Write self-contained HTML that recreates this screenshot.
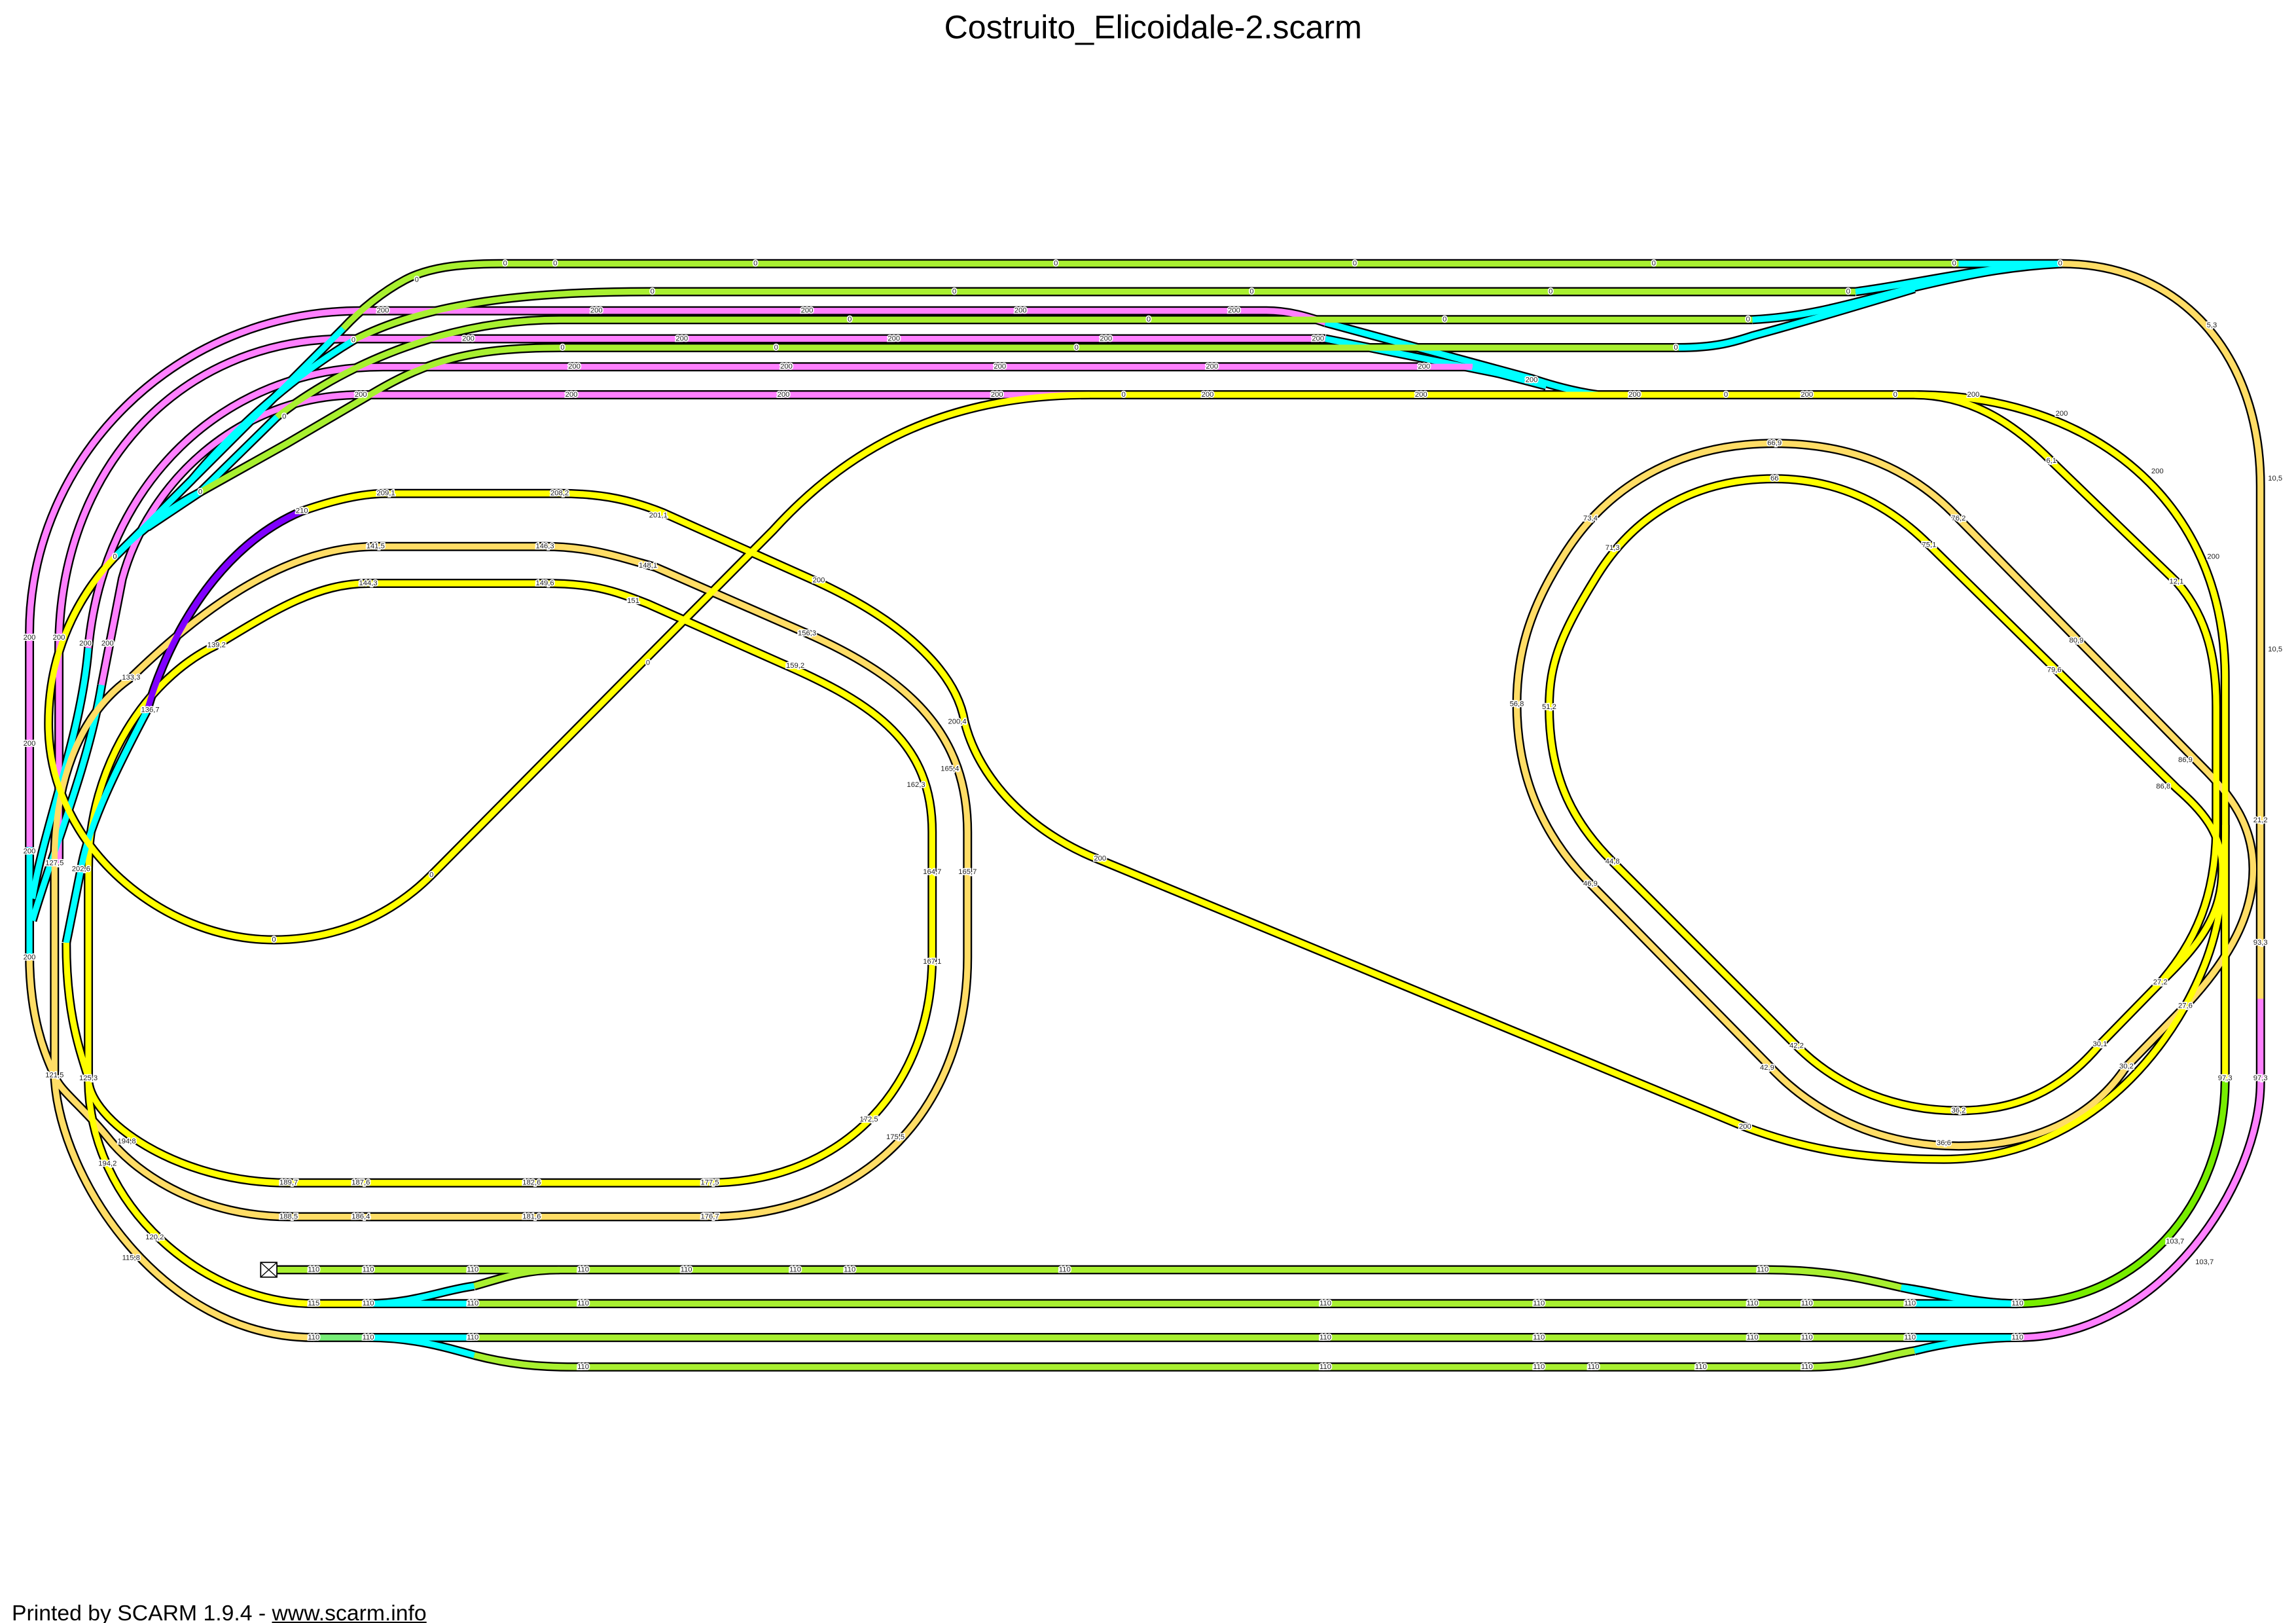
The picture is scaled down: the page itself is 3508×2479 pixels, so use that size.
<!DOCTYPE html>
<html><head><meta charset="utf-8"><style>
html,body{margin:0;padding:0;background:#fff}
svg{display:block}
.k{fill:none;stroke:#000;stroke-width:6.2;stroke-linecap:butt;stroke-linejoin:round}
.c{fill:none;stroke-width:4.1;stroke-linecap:butt;stroke-linejoin:round}
.l{font-family:"Liberation Sans",sans-serif;font-size:5px;fill:#222;stroke:#fff;stroke-width:1.6px;paint-order:stroke;text-anchor:middle;dominant-baseline:middle}
</style></head><body>
<svg width="3508" height="2479" viewBox="0 0 1559.1 1101.8" xmlns="http://www.w3.org/2000/svg">
<rect x="0" y="0" width="1559.1" height="1101.8" fill="#fff"/>
<defs>
<path id="p1" d="M1400,179 L1330,179"/>
<path id="p2" d="M1330,179 L340,179 C310,179 290,182 275,190 C260,198 245,210 233,223"/>
<path id="p3" d="M233,223 L78,378"/>
<path id="p4" d="M78,378 C48,410 32,450 33,495 C35,575 110,638 186,638 C228,638 265,622 293,594 L525,360 C575,305 640,268 740,268"/>
<path id="p5" d="M740,268 L1300,268 C1420,268 1511,340 1511,460 L1511,732"/>
<path id="p6" d="M1511,732 C1511,820 1450,885 1370,885"/>
<path id="p7" d="M1370,885 L1300,885 M1370,885 C1340,885 1310,876 1291,874"/>
<path id="p8" d="M1300,885 L320,885"/>
<path id="p9" d="M320,885 L250,885 M250,885 C280,885 300,876 322,873"/>
<path id="p10" d="M322,873 C340,868 355,862 380,862"/>
<path id="p11" d="M250,885 L213,885 C140,885 60,820 60,732"/>
<path id="p12" d="M60,732 L60,590 C60,520 100,460 147,438 C185,415 215,396 250,396 L370,396 C400,396 415,400 440,410 L530,450 C595,478 633,505 633,565 L633,650 C633,735 575,803 480,803 L195,803 C120,803 60,760 60,732"/>
<path id="p13" d="M37,730 L37,586 C37,520 60,480 89,460 C130,420 190,371 255,371 L370,371 C400,371 420,378 445,385 L548,430 C620,462 657,500 657,565 L657,650 C657,750 590,826 480,826 L196,826 C140,826 95,800 73,772 C55,750 40,740 37,730"/>
<path id="p14" d="M37,730 C40,800 110,908 213,908"/>
<path id="p15" d="M213,908 L250,908"/>
<path id="p16" d="M250,908 L320,908 M250,908 C280,908 300,914 322,920"/>
<path id="p17" d="M320,908 L1300,908"/>
<path id="p18" d="M322,920 C345,926 365,928 390,928 L1230,928 C1260,928 1280,920 1300,917"/>
<path id="p19" d="M1300,917 C1320,912 1345,908 1370,908 M1300,908 L1370,908"/>
<path id="p20" d="M1370,908 C1470,908 1535,800 1535,735 L1535,678"/>
<path id="p21" d="M1535,678 L1535,330 C1535,240 1480,179 1400,179"/>
<path id="p22" d="M188,862 L1200,862 C1240,862 1265,868 1291,874"/>
<path id="p22c" d="M1291,874 C1320,880 1345,885 1370,885"/>
<path id="q1" d="M860,211 L245,211 C120,211 20,310 20,430 L20,575"/>
<path id="q1c" d="M20,575 L20,648"/>
<path id="q1o" d="M20,648 C20,690 30,715 37,730"/>
<path id="q1r" d="M860,211 C875,211 888,215 900,219"/>
<path id="q1rc" d="M900,219 L1040,257 C1055,262 1070,266 1085,268"/>
<path id="q2" d="M900,230 L235,230 C120,230 40,320 40,440 L40,586"/>
<path id="q2c" d="M900,230 L1040,258"/>
<path id="q3" d="M1000,249 L260,249 C150,249 70,330 60,440"/>
<path id="q3c" d="M60,440 C55,500 30,560 22,610 M1000,249 L1050,262"/>
<path id="q4" d="M740,268 L245,268 C160,268 100,330 83,393 L69,465"/>
<path id="q4c" d="M69,465 C60,520 35,580 22,625"/>
<path id="g2" d="M1260,198 L440,198 C360,198 290,205 240,231"/>
<path id="g2c" d="M240,231 C200,255 160,290 130,326 L78,378 M1260,198 C1300,193 1350,180 1400,179"/>
<path id="g3" d="M1190,217 L380,217 C300,217 230,250 188,283"/>
<path id="g3c" d="M188,283 L136,334 L100,358 M1190,217 C1230,215 1260,205 1300,195 C1330,188 1360,181 1400,179"/>
<path id="g4" d="M1140,236 L380,236 C320,236 290,245 253,267 L195,301 L136,334"/>
<path id="g4c" d="M136,334 C115,345 95,360 78,378 M1140,236 C1165,236 1178,232 1190,228 C1220,220 1260,208 1300,196"/>
<path id="v1" d="M100,482 C115,430 150,370 205,347"/>
<path id="v2" d="M205,347 C225,340 245,335 262,335 L380,335 C410,335 430,340 450,348 L555,395 C620,425 650,460 655,490 C665,530 700,565 745,583 L1185,765 C1230,782 1270,787 1320,787 C1410,787 1470,720 1495,660 C1508,630 1511,600 1511,560"/>
<path id="v3" d="M100,482 C80,520 60,560 55,590 L45,640"/>
<path id="v4" d="M45,640 C45,690 55,715 60,732"/>
<path id="o1" d="M1205,301 C1140,301 1090,330 1060,380 C1038,415 1030,445 1030,478 C1030,530 1050,570 1080,600 L1200,722 C1230,755 1275,778 1330,778 C1380,778 1420,760 1444,724 L1484,683 C1515,650 1530,620 1530,590 C1530,560 1515,540 1495,520 L1330,352 C1300,320 1260,301 1205,301 Z"/>
<path id="o2" d="M1205,325 C1150,325 1110,350 1085,390 C1060,430 1052,450 1052,480 C1052,530 1070,560 1095,585 L1220,710 C1250,740 1290,754 1330,754 C1370,754 1400,740 1426,709 L1467,667 C1495,640 1509,620 1509,590 C1509,565 1495,550 1478,535 L1310,370 C1280,340 1245,325 1205,325 Z"/>
<path id="r2" d="M1300,268 C1340,268 1370,290 1393,313 L1478,395 C1500,420 1505,450 1505,480 L1505,560 C1505,610 1490,640 1467,667"/>
</defs>

<g class="k">
<use href="#q1"/><use href="#q1c"/><use href="#q1o"/><use href="#q1r"/><use href="#q1rc"/>
<use href="#q2"/><use href="#q2c"/><use href="#q3"/><use href="#q3c"/><use href="#q4"/><use href="#q4c"/>
<use href="#o1"/><use href="#o2"/><use href="#r2"/>
<use href="#p13"/><use href="#p12"/><use href="#p14"/>
<use href="#v1"/><use href="#v2"/><use href="#v3"/><use href="#v4"/>
<use href="#p1"/><use href="#p2"/><use href="#p3"/><use href="#p4"/><use href="#p5"/><use href="#p6"/>
<use href="#p7"/><use href="#p8"/><use href="#p9"/><use href="#p10"/><use href="#p11"/>
<use href="#p15"/><use href="#p16"/><use href="#p17"/><use href="#p18"/><use href="#p19"/><use href="#p20"/><use href="#p21"/>
<use href="#p22"/><use href="#p22c"/>
<use href="#g2"/><use href="#g2c"/><use href="#g3"/><use href="#g3c"/><use href="#g4"/><use href="#g4c"/>
</g>
<g class="c">
<use href="#q1" stroke="#ff80ff"/><use href="#q1c" stroke="#00ffff"/><use href="#q1o" stroke="#ffdd66"/><use href="#q1r" stroke="#ff80ff"/><use href="#q1rc" stroke="#00ffff"/>
<use href="#q2" stroke="#ff80ff"/><use href="#q2c" stroke="#00ffff"/><use href="#q3" stroke="#ff80ff"/><use href="#q3c" stroke="#00ffff"/><use href="#q4" stroke="#ff80ff"/><use href="#q4c" stroke="#00ffff"/>
<use href="#o1" stroke="#ffdd66"/><use href="#o2" stroke="#ffff00"/><use href="#r2" stroke="#ffff00"/>
<use href="#p13" stroke="#ffdd66"/><use href="#p12" stroke="#ffff00"/><use href="#p14" stroke="#ffdd66"/>
<use href="#v1" stroke="#8000ff"/><use href="#v2" stroke="#ffff00"/><use href="#v3" stroke="#00ffff"/><use href="#v4" stroke="#ffff00"/>
<use href="#p1" stroke="#00ffff"/><use href="#p2" stroke="#a8f030"/><use href="#p3" stroke="#00ffff"/><use href="#p4" stroke="#ffff00"/><use href="#p5" stroke="#ffff00"/><use href="#p6" stroke="#77ee00"/>
<use href="#p7" stroke="#00ffff"/><use href="#p8" stroke="#a8f030"/><use href="#p9" stroke="#00ffff"/><use href="#p10" stroke="#a8f030"/><use href="#p11" stroke="#ffff00"/>
<use href="#p15" stroke="#77ee77"/><use href="#p16" stroke="#00ffff"/><use href="#p17" stroke="#a8f030"/><use href="#p18" stroke="#a8f030"/><use href="#p19" stroke="#00ffff"/><use href="#p20" stroke="#ff80ff"/><use href="#p21" stroke="#ffdd66"/>
<use href="#p22" stroke="#a8f030"/><use href="#p22c" stroke="#00ffff"/>
<use href="#g2" stroke="#a8f030"/><use href="#g2c" stroke="#00ffff"/><use href="#g3" stroke="#a8f030"/><use href="#g3c" stroke="#00ffff"/><use href="#g4" stroke="#a8f030"/><use href="#g4c" stroke="#00ffff"/>
</g>
<rect x="177" y="857" width="11" height="10" fill="#fff" stroke="#000" stroke-width="0.8"/>
<path d="M177,857 L188,867 M188,857 L177,867" stroke="#000" stroke-width="0.6"/>

<g class="l">
<text x="343" y="179">0</text><text x="377" y="179">0</text><text x="513" y="179">0</text><text x="717" y="179">0</text><text x="920" y="179">0</text><text x="1123" y="179">0</text><text x="1327" y="179">0</text><text x="1399" y="179">0</text>
<text x="443" y="198">0</text><text x="648" y="198">0</text><text x="850" y="198">0</text><text x="1053" y="198">0</text><text x="1255" y="198">0</text>
<text x="260" y="211">200</text><text x="405" y="211">200</text><text x="548" y="211">200</text><text x="693" y="211">200</text><text x="838" y="211">200</text>
<text x="577" y="217">0</text><text x="780" y="217">0</text><text x="981" y="217">0</text><text x="1187" y="217">0</text>
<text x="318" y="230">200</text><text x="463" y="230">200</text><text x="607" y="230">200</text><text x="751" y="230">200</text><text x="895" y="230">200</text>
<text x="382" y="236">0</text><text x="527" y="236">0</text><text x="731" y="236">0</text><text x="1138" y="236">0</text>
<text x="390" y="249">200</text><text x="534" y="249">200</text><text x="679" y="249">200</text><text x="823" y="249">200</text><text x="967" y="249">200</text>
<text x="245" y="268">200</text><text x="388" y="268">200</text><text x="532" y="268">200</text><text x="677" y="268">200</text><text x="763" y="268">0</text><text x="820" y="268">200</text><text x="965" y="268">200</text><text x="1040" y="258">200</text><text x="1110" y="268">200</text><text x="1172" y="268">0</text><text x="1227" y="268">200</text><text x="1287" y="268">0</text><text x="1340" y="268">200</text>
<text x="283" y="190">0</text><text x="240" y="231">0</text><text x="193" y="283">0</text><text x="136" y="334">0</text><text x="78" y="378">0</text>
<text x="262" y="335">209,1</text><text x="380" y="335">208,2</text><text x="447" y="350">201,1</text><text x="556" y="394">200</text><text x="650" y="490">200,4</text><text x="747" y="583">200</text><text x="1185" y="765">200</text>
<text x="205" y="347">210</text><text x="255" y="371">141,5</text><text x="370" y="371">146,3</text><text x="440" y="384">148,1</text><text x="548" y="430">156,3</text><text x="645" y="522">165,4</text><text x="657" y="592">165,7</text><text x="608" y="772">175,5</text>
<text x="250" y="396">144,3</text><text x="370" y="396">149,6</text><text x="430" y="408">151</text><text x="540" y="452">159,2</text><text x="622" y="533">162,3</text><text x="633" y="592">164,7</text><text x="633" y="653">167,1</text><text x="590" y="760">172,5</text>
<text x="196" y="803">189,7</text><text x="245" y="803">187,6</text><text x="361" y="803">182,6</text><text x="482" y="803">177,5</text>
<text x="196" y="826">188,5</text><text x="245" y="826">186,4</text><text x="361" y="826">181,6</text><text x="482" y="826">176,7</text>
<text x="186" y="638">0</text><text x="293" y="594">0</text><text x="440" y="450">0</text>
<text x="20" y="433">200</text><text x="20" y="505">200</text><text x="20" y="578">200</text><text x="20" y="650">200</text><text x="40" y="433">200</text><text x="58" y="437">200</text><text x="73" y="437">200</text>
<text x="213" y="862">110</text><text x="250" y="862">110</text><text x="321" y="862">110</text><text x="396" y="862">110</text><text x="466" y="862">110</text><text x="540" y="862">110</text><text x="577" y="862">110</text><text x="723" y="862">110</text><text x="1197" y="862">110</text>
<text x="213" y="885">115</text><text x="250" y="885">110</text><text x="321" y="885">110</text><text x="396" y="885">110</text><text x="900" y="885">110</text><text x="1045" y="885">110</text><text x="1190" y="885">110</text><text x="1227" y="885">110</text><text x="1297" y="885">110</text><text x="1370" y="885">110</text>
<text x="213" y="908">110</text><text x="250" y="908">110</text><text x="321" y="908">110</text><text x="900" y="908">110</text><text x="1045" y="908">110</text><text x="1190" y="908">110</text><text x="1227" y="908">110</text><text x="1297" y="908">110</text><text x="1370" y="908">110</text>
<text x="396" y="928">110</text><text x="900" y="928">110</text><text x="1045" y="928">110</text><text x="1082" y="928">110</text><text x="1155" y="928">110</text><text x="1227" y="928">110</text>
<text x="1477" y="843">103,7</text><text x="1497" y="857">103,7</text><text x="1511" y="732">97,3</text><text x="1535" y="732">97,3</text><text x="1535" y="640">93,3</text><text x="1535" y="557">21,2</text><text x="1545" y="441">10,5</text><text x="1545" y="325">10,5</text><text x="1502" y="221">5,3</text>
<text x="1393" y="313">6,1</text><text x="1478" y="395">12,1</text><text x="1400" y="281">200</text><text x="1465" y="320">200</text><text x="1503" y="378">200</text>
<text x="1205" y="301">66,9</text><text x="1205" y="325">66</text><text x="1080" y="352">73,4</text><text x="1095" y="372">71,3</text><text x="1030" y="478">56,8</text><text x="1052" y="480">51,2</text><text x="1080" y="600">46,9</text><text x="1095" y="585">44,8</text>
<text x="1330" y="352">76,2</text><text x="1310" y="370">75,1</text><text x="1410" y="435">80,9</text><text x="1395" y="455">79,6</text><text x="1484" y="516">86,9</text><text x="1469" y="534">86,8</text>
<text x="1467" y="667">27,2</text><text x="1426" y="709">30,1</text><text x="1484" y="683">27,6</text><text x="1444" y="724">30,2</text><text x="1330" y="754">36,2</text><text x="1320" y="776">36,6</text><text x="1220" y="710">42,2</text><text x="1200" y="725">42,9</text>
<text x="89" y="460">133,3</text><text x="102" y="482">136,7</text><text x="147" y="438">139,2</text><text x="37" y="586">127,5</text><text x="55" y="590">202,6</text><text x="60" y="732">125,3</text><text x="37" y="730">121,5</text><text x="86" y="775">194,8</text><text x="73" y="790">194,2</text><text x="105" y="840">120,2</text><text x="89" y="854">115,8</text>
</g>

<text x="783" y="26" font-family="Liberation Sans, sans-serif" font-size="22.3" text-anchor="middle" fill="#000">Costruito_Elicoidale-2.scarm</text>
<text x="8" y="1100" font-family="Liberation Sans, sans-serif" font-size="15" fill="#000">Printed by SCARM 1.9.4 - <tspan text-decoration="underline">www.scarm.info</tspan></text>
</svg>
</body></html>
